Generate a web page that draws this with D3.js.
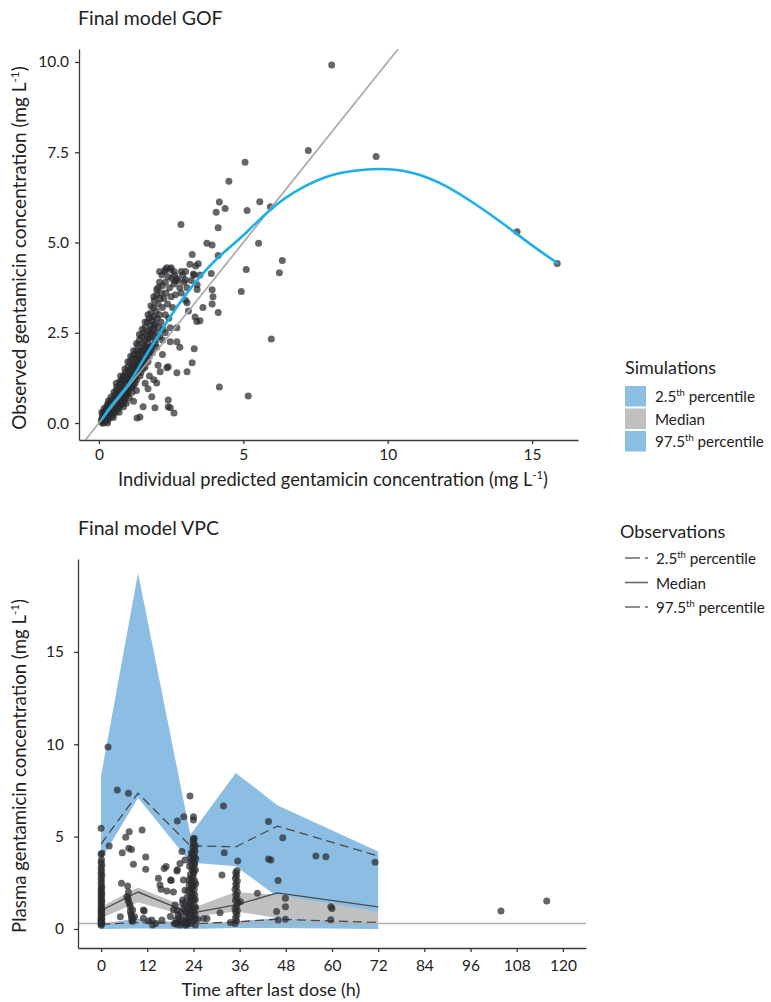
<!DOCTYPE html>
<html>
<head>
<meta charset="utf-8">
<script src="https://cdn.jsdelivr.net/npm/d3@7"></script>
<style>
  body { margin: 0; background: #fff; }
  text { font-family: Lato, "Open Sans", sans-serif; fill: #222; }
</style>
</head>
<body>
<svg id="chart" width="771" height="1002"></svg>
<script>
// ---- GOF data: [individual predicted, observed] (mg/L)
const gofPoints = [
  [0.08,0.05],[0.1,0.12],[0.12,0.2],[0.15,0.1],[0.15,0.28],[0.18,0.18],[0.2,0.32],[0.2,0.05],[0.22,0.22],[0.25,0.4],
  [0.25,0.15],[0.28,0.3],[0.3,0.45],[0.3,0.22],[0.32,0.1],[0.35,0.38],[0.35,0.55],[0.38,0.28],[0.4,0.48],[0.4,0.62],
  [0.42,0.35],[0.45,0.55],[0.45,0.2],[0.48,0.42],[0.5,0.68],[0.5,0.5],[0.52,0.3],[0.55,0.6],[0.55,0.78],[0.58,0.45],
  [0.6,0.7],[0.6,0.9],[0.62,0.55],[0.65,0.82],[0.65,0.38],[0.68,0.7],[0.7,1.0],[0.7,0.6],[0.72,0.85],[0.75,0.5],
  [0.75,1.1],[0.78,0.92],[0.8,0.75],[0.8,1.2],[0.82,0.62],[0.85,1.0],[0.85,1.3],[0.88,0.85],[0.9,1.1],[0.9,0.7],
  [0.92,1.4],[0.95,0.95],[0.95,1.2],[0.98,0.8],[1.0,1.3],[1.0,1.05],[1.0,1.55],[1.02,0.9],[1.05,1.45],[1.05,1.15],
  [1.08,1.7],[1.1,1.3],[1.1,1.0],[1.12,1.55],[1.15,1.2],[1.15,1.8],[1.18,1.4],[1.2,1.65],[1.2,1.05],[1.22,1.9],
  [1.25,1.5],[1.25,1.25],[1.28,1.75],[1.3,2.0],[1.3,1.35],[1.32,1.6],[1.35,1.9],[1.35,2.15],[1.38,1.5],[1.4,1.8],
  [1.4,2.3],[1.42,1.3],[1.45,2.0],[1.45,1.65],[1.48,2.4],[1.5,1.85],[1.5,2.2],[1.52,1.5],[1.55,2.5],[1.55,2.0],
  [1.58,1.75],[1.6,2.3],[1.6,2.65],[1.62,1.9],[1.65,2.45],[1.65,2.1],[1.68,2.8],[1.7,2.2],[1.7,1.7],[1.72,2.55],
  [1.75,2.9],[1.75,2.35],[1.78,2.0],[1.8,2.7],[1.8,3.05],[1.82,2.4],[1.85,2.85],[1.85,2.15],[1.88,3.2],[1.9,2.6],
  [1.9,2.95],[1.92,3.4],[1.95,2.3],[1.95,2.75],[1.98,3.1],[2.0,3.55],[2.0,2.5],[2.02,2.9],[2.05,3.3],[2.05,3.75],
  [2.08,2.65],[2.1,3.0],[2.1,3.9],[2.12,3.45],[2.15,2.8],[2.15,3.6],[2.18,4.1],[2.2,3.2],[2.2,3.8],[2.22,2.6],
  [2.25,3.45],[2.28,4.2],[2.3,3.0],[2.3,3.9],[2.32,3.6],[2.35,4.3],[2.38,3.3],[2.4,4.05],[2.42,2.9],[2.45,3.75],
  [2.48,4.25],[2.5,3.5],[2.52,4.0],[2.55,3.2],[2.6,3.85],[2.62,4.1],[2.65,3.55],[2.7,4.0],[2.75,3.95],[2.8,3.75],
  [2.85,3.6],[2.9,4.1],[2.95,3.9],[3.0,4.2],[3.05,3.75],[3.15,4.4],[3.2,3.95],[3.3,4.1],[3.35,4.35],[3.0,3.4],
  [3.1,3.1],[3.4,3.7],[3.5,4.1],
  [0.1,0.3],[0.12,0.0],[0.18,0.4],[0.22,0.08],[0.28,0.5],[0.3,0.0],[0.33,0.62],[0.38,0.15],[0.42,0.72],[0.48,0.25],
  [0.52,0.85],[0.58,0.3],[0.62,1.0],[0.68,0.45],[0.72,1.15],[0.78,0.55],[0.82,1.25],[0.88,0.6],[0.92,1.05],[0.98,1.35],
  [1.02,1.2],[1.08,1.25],[1.12,1.45],[1.18,1.6],[1.22,1.35],[1.28,1.55],[1.32,1.8],[1.38,1.7],[1.42,1.95],[1.48,1.75],
  [1.52,2.05],[1.58,2.15],[1.62,2.0],[1.68,2.35],[1.72,2.1],[1.78,2.5],[1.82,2.6],[1.88,2.45],[1.92,2.7],
  [0.15,0.0],[0.2,0.15],[0.25,0.05],[0.3,0.35],[0.35,0.2],[0.4,0.3],[0.45,0.4],[0.5,0.35],[0.55,0.45],[0.6,0.4],
  [0.65,0.6],[0.7,0.45],[0.75,0.7],[0.8,0.55],[0.85,0.8],[0.9,0.9],[0.95,0.75],[1.0,0.85],[1.05,0.95],[1.1,1.15],
  [1.15,1.0],[1.2,1.25],[1.25,1.1],[1.3,1.2],[1.35,1.45],[1.4,1.55],[1.45,1.4],[1.5,1.6],[1.55,1.7],[1.6,1.55],
  [1.65,1.85],[1.7,2.0],[1.75,1.85],[1.8,2.1],[1.85,1.95],[1.95,2.2],[2.0,2.1],[2.1,2.4],[2.2,2.3],[2.3,2.5],
  [0.6,1.1],[0.75,1.3],[0.9,1.5],[1.0,1.7],[1.1,1.85],[1.2,2.0],[1.3,2.2],[1.4,2.45],[1.5,2.6],[1.6,2.8],
  [1.7,3.0],[1.8,3.25],[1.9,3.5],[2.0,3.7],[2.1,4.2],[2.3,4.25],[2.5,4.3],[2.6,4.2],
  [0.5,0.15],[0.7,0.3],[0.85,0.45],[0.95,0.55],[1.05,0.7],[1.15,0.85],[1.2,0.6],[1.3,0.9],[1.32,0.14],[1.42,0.17],
  [1.53,0.45],[1.6,1.1],[1.7,0.95],[1.75,1.3],[1.83,0.73],[1.9,1.2],[1.94,0.42],[2.0,1.11],[2.05,1.6],[2.12,1.42],
  [2.2,1.9],[2.35,1.53],[2.4,0.64],[2.4,0.45],[2.4,1.56],[2.47,0.42],[2.47,2.25],[2.47,2.64],[2.6,0.28],[2.7,1.39],
  [2.7,2.25],[2.7,2.64],[2.8,2.1],[3.05,1.42],[3.23,1.67],[3.3,2.06],[3.33,2.94],[3.5,2.83],[3.39,2.81],[3.6,3.2],
  [3.23,4.67],[3.44,4.41],[3.27,4.13],[2.85,4.2],[2.64,3.94],[3.4,3.83],[2.99,3.97],[3.05,3.33],[4.13,4.64],[3.89,4.14],
  [3.92,3.3],
  [2.84,5.5],[3.74,4.98],[3.92,4.93],[3.92,3.69],[3.95,3.5],[4.13,3.06],[4.06,5.84],[4.17,6.12],[4.37,5.94],[4.13,5.41],
  [4.5,6.7],[5.06,7.22],[5.13,5.89],[5.57,6.13],[5.94,5.99],[5.53,4.98],[5.1,4.25],[4.93,3.64],[6.35,4.5],[6.25,4.16],
  [5.97,2.33],[4.17,1.0],[5.17,0.75],[7.25,7.55],[8.06,9.92],[9.6,7.38],[14.48,5.3],[15.87,4.42]
];
// smooth (loess) fit through the GOF points
const fitX = [0.1, 0.5, 1, 1.5, 2, 2.5, 3, 3.5, 4, 4.5, 5, 6, 7, 8, 9, 10, 11, 12, 13, 14, 15, 15.9];
const fitY = [0.1, 0.55, 1.05, 1.7, 2.35, 2.98, 3.55, 4.05, 4.48, 4.85, 5.2, 5.95, 6.5, 6.85, 7.0, 7.03, 6.9, 6.57, 6.08, 5.52, 4.92, 4.42];
const gofXTicks = [0, 5, 10, 15];
const gofYTicks = [0, 2.5, 5, 7.5, 10];

// ---- VPC data
const binTime = [0, 9.6, 23.2, 35, 45.8, 72];
// simulated 95% CI of each percentile
const simHiLo  = [3.75, 7.1, 3.6, 3.4, 1.75, 0.85];
const simHiHi  = [8.3, 19.27, 5.1, 8.45, 6.7, 4.2];
const simMedLo = [0.6, 1.45, 0.65, 0.95, 0.6, 0.3];
const simMedHi = [1.2, 2.25, 1.1, 2.0, 1.85, 0.95];
const simLoLo  = [0.0, 0.02, 0.0, 0.05, 0.05, 0.0];
const simLoHi  = [0.3, 0.55, 0.3, 0.4, 0.6, 0.45];
// observed percentiles
const obsP975 = [4.6, 7.35, 4.5, 4.45, 5.57, 3.95];
const obsP50  = [1.0, 2.0, 0.85, 1.3, 1.95, 1.2];
const obsP025 = [0.25, 0.35, 0.28, 0.38, 0.53, 0.35];
const lloq = 0.3;
// observed concentrations: [time after last dose (h), conc (mg/L)]
const vpcPoints = [
  [0,0.2],[0.1,0.25],[0,0.3],[0.2,0.35],[0,0.4],[0.1,0.45],[0,0.5],[0.2,0.55],[0,0.6],[0.1,0.7],
  [0,0.75],[0.2,0.8],[0,0.9],[0.1,1.0],[0,1.05],[0.2,1.1],[0,1.2],[0.1,1.3],[0,1.4],[0.2,1.5],
  [0,1.6],[0.1,1.7],[0,1.8],[0.2,1.9],[0,2.0],[0.1,2.1],[0,2.2],[0.2,2.3],[0,2.45],[0.1,2.6],
  [0,2.75],[0.2,2.9],[0,3.0],[0.1,3.15],[0,3.3],[0.2,3.45],[0,3.6],[0.1,3.75],[0,4.05],[0.2,4.1],
  [0,5.45],[1.8,9.85],[2.1,4.49],[4.2,7.53],[7.1,7.35],
  [5.5,4.13],[6.4,4.96],[7.3,5.27],[7.2,4.37],[7.9,4.3],[10.65,5.36],[8.4,3.5],[11.6,3.9],[11.6,3.23],[5.3,2.47],
  [6.9,2.33],[14.9,2.74],[15.3,2.38],[16.4,3.28],[17.1,2.06],[18.2,2.62],[19.7,3.14],[19.8,5.85],[21.5,6.08],
  [6.7,1.75],[7.1,1.5],[7.6,1.2],[7.6,0.94],[7.9,0.66],[8.1,0.4],[7.1,2.0],[7.4,1.35],[7.8,0.8],[8.3,0.55],
  [7.0,1.65],[8.0,0.5],[8.2,1.03],[11.0,1.03],[11.0,0.58],[13.2,0.49],[13.4,0.22],[14.2,0.3],[15.8,0.49],[15.6,2.15],
  [16.9,3.38],[18.1,2.65],[18.8,2.0],[19.8,3.2],[18.0,0.67],[18.8,1.03],[19.2,1.3],[19.5,0.49],[20.0,0.76],[20.5,0.4],
  [21.2,1.57],[21.4,2.65],[21.0,4.19],[21.8,3.74],[20.5,3.55],[8.7,0.66],[5.0,0.66],[12.3,0.43],[11.2,0.97],
  [19.0,0.3],[19.5,0.25],[20.0,0.35],[20.5,0.22],[21.0,0.5],[21.3,0.3],[20.8,0.85],[21.5,1.1],[20.2,0.6],[21.2,1.4],[19.8,1.0],
  [22.4,0.25],[22.6,0.4],[22.8,0.55],[23.0,0.7],[22.5,0.85],[23.2,1.0],[22.7,1.15],[23.4,1.3],[22.9,1.45],[23.6,1.6],
  [23.1,1.75],[23.8,1.9],[22.6,2.05],[23.3,2.2],[24.0,2.35],[23.5,2.5],[22.8,2.65],[23.9,2.8],[23.2,2.95],[24.1,3.1],
  [23.6,3.25],[23.0,3.4],[24.2,3.55],[23.7,3.7],[23.3,3.85],[24.0,4.0],[23.5,4.15],[24.2,4.3],[23.8,4.45],[24.1,4.6],
  [23.9,4.75],[24.0,4.9],[23.4,0.3],[23.8,0.45],[24.2,0.6],[23.6,0.8],[24.0,0.95],[23.9,1.1],[24.3,1.25],[23.1,1.4],
  [24.1,1.55],[23.7,1.7],[24.3,1.85],[23.5,2.0],[24.2,2.15],[23.8,2.3],[22.9,2.4],[24.3,2.6],[23.4,2.75],[24.0,3.0],
  [23.9,3.3],[24.3,3.5],[23.3,3.6],[24.3,3.9],[23.6,4.05],[24.4,4.2],[22.2,0.3],[22.1,0.6],[22.0,0.95],[21.9,1.3],
  [22.3,1.7],[21.8,2.1],[22.2,0.45],[22.0,0.2],[24.5,0.22],[24.6,0.5],[24.4,0.8],[24.6,1.15],[24.5,1.6],[24.6,2.45],
  [24.5,3.2],[24.6,3.8],[24.5,4.5],[24.2,4.9],[24.0,5.9],[24.0,6.08],[23.1,7.2],
  [25.1,0.52],[26.6,0.57],[27.5,0.57],
  [34.8,0.3],[35.2,0.45],[34.9,0.6],[35.3,0.75],[35.0,0.9],[35.4,1.0],[34.8,1.1],[35.2,1.25],[35.5,1.4],[34.9,1.55],
  [35.3,1.7],[35.0,1.85],[35.4,2.0],[34.8,2.15],[35.2,2.3],[35.0,2.45],[35.4,2.6],[34.9,2.75],[35.2,2.9],[35.0,3.05],
  [35.3,3.15],[36.2,1.48],[33.6,0.35],[30.9,0.88],[31.4,2.92],[32.0,4.13],[31.8,6.66],[35.5,3.68],
  [43.5,5.82],[43.5,3.79],[44.1,3.73],[47.2,4.94],[46.0,2.62],[47.9,1.66],[47.9,1.2],[47.9,0.52],[46.0,0.48],[45.6,0.94],
  [40.6,1.93],[55.8,3.95],[58.4,3.91],[59.7,1.2],[60.0,1.11],[59.7,0.5],[71.2,3.61],[103.9,0.97],[115.8,1.52]
];
const vpcXTicks = [0, 12, 24, 36, 48, 60, 72, 84, 96, 108, 120];
const vpcYTicks = [0, 5, 10, 15];

const simLabels = ['2.5th percentile', 'Median', '97.5th percentile'];
const bandBlue = '#8cbee3';
const bandGray = '#c0c0c0';

const svg = d3.select('#chart');

function styleAxis (g, fs) {
  g.attr('font-family', 'Lato, "Open Sans", sans-serif')
  g.select('.domain').attr('stroke', '#3a3a3a').attr('stroke-width', 1.3)
  g.selectAll('.tick line').attr('stroke', '#3a3a3a').attr('stroke-width', 1.3)
  g.selectAll('.tick text').attr('font-size', fs).attr('fill', '#222')
}

// label with a superscript "th" or "-1"
function supText (sel, before, sup, after, fs) {
  sel.append('tspan').text(before)
  sel.append('tspan').attr('font-size', fs * 0.62).attr('dy', -fs * 0.38).text(sup)
  sel.append('tspan').attr('dy', fs * 0.38).text(after)
}

// ================= GOF panel =================
const xG = d3.scaleLinear().domain([-0.69, 16.59]).range([79, 578]);
const yG = d3.scaleLinear().domain([-0.47, 10.36]).range([440, 49]);

svg.append('clipPath').attr('id', 'clipG')
  .append('rect').attr('x', 79).attr('y', 49).attr('width', 499).attr('height', 391);

const gofG = svg.append('g').attr('clip-path', 'url(#clipG)');
gofG.selectAll('circle').data(gofPoints).enter().append('circle')
  .attr('cx', d => xG(d[0])).attr('cy', d => yG(d[1])).attr('r', 3.5)
  .attr('fill', '#2b2b2f').attr('fill-opacity', 0.72);

gofG.append('line')
  .attr('x1', xG(-0.47)).attr('y1', yG(-0.47)).attr('x2', xG(10.36)).attr('y2', yG(10.36))
  .attr('stroke', '#a8a8a8').attr('stroke-width', 1.6);

gofG.append('path')
  .datum(fitX.map((x, i) => [x, fitY[i]]))
  .attr('d', d3.line().x(d => xG(d[0])).y(d => yG(d[1])).curve(d3.curveNatural))
  .attr('fill', 'none').attr('stroke', '#1cb0e6').attr('stroke-width', 2.6);

svg.append('g').attr('transform', 'translate(0,440)')
  .call(d3.axisBottom(xG).tickValues(gofXTicks).tickSize(4).tickSizeOuter(0).tickPadding(5))
  .call(g => styleAxis(g, 15.5));
svg.append('g').attr('transform', 'translate(79,0)')
  .call(d3.axisLeft(yG).tickValues(gofYTicks).tickFormat(d3.format('.1f')).tickSize(4).tickSizeOuter(0).tickPadding(6))
  .call(g => styleAxis(g, 15.5));

svg.append('text').attr('x', 78).attr('y', 25).attr('font-size', 19.5).text('Final model GOF');
supText(svg.append('text').attr('x', 333).attr('y', 486).attr('font-size', 18.3).attr('text-anchor', 'middle'),
  'Individual predicted gentamicin concentration (mg L', '-1', ')', 18.3);
supText(svg.append('text').attr('transform', 'translate(26,248) rotate(-90)').attr('font-size', 19).attr('text-anchor', 'middle'),
  'Observed gentamicin concentration (mg L', '-1', ')', 19);

// Simulations legend
const simLeg = svg.append('g').attr('transform', 'translate(625,0)');
simLeg.append('text').attr('x', 0).attr('y', 374).attr('font-size', 18).text('Simulations');
const simColors = [bandBlue, bandGray, bandBlue];
simLabels.forEach((lab, i) => {
  const y0 = 386 + i * 22.5;
  simLeg.append('rect').attr('x', 0).attr('y', y0).attr('width', 21).attr('height', 20.5).attr('fill', simColors[i]);
  const t = simLeg.append('text').attr('x', 30).attr('y', y0 + 16).attr('font-size', 15.2);
  if (i === 1) t.text(lab);
  else supText(t, lab.split('th')[0], 'th', lab.split('th')[1], 15.2);
});

// ================= VPC panel =================
const xV = d3.scaleLinear().domain([-6, 126]).range([78, 586]);
const yV = d3.scaleLinear().domain([-1.03, 20.03]).range([948, 559]);

const area = (lo, hi) => d3.area().x((d, i) => xV(binTime[i])).y0((d, i) => yV(lo[i])).y1((d, i) => yV(hi[i]))(binTime);
const line = vals => d3.line().x((d, i) => xV(binTime[i])).y((d, i) => yV(vals[i]))(binTime);

const vpcG = svg.append('g');
vpcG.append('path').attr('d', area(simHiLo, simHiHi)).attr('fill', bandBlue);
vpcG.append('path').attr('d', area(simLoLo, simLoHi)).attr('fill', bandBlue);
vpcG.append('path').attr('d', area(simMedLo, simMedHi)).attr('fill', bandGray);

vpcG.append('line')
  .attr('x1', xV(-6)).attr('x2', xV(126)).attr('y1', yV(lloq)).attr('y2', yV(lloq))
  .attr('stroke', '#b0b0b0').attr('stroke-width', 1.6);

vpcG.append('path').attr('d', line(obsP975)).attr('fill', 'none')
  .attr('stroke', '#4a4a4a').attr('stroke-width', 1.3).attr('stroke-dasharray', '9,5');
vpcG.append('path').attr('d', line(obsP025)).attr('fill', 'none')
  .attr('stroke', '#4a4a4a').attr('stroke-width', 1.3).attr('stroke-dasharray', '9,5');
vpcG.append('path').attr('d', line(obsP50)).attr('fill', 'none')
  .attr('stroke', '#4a4a4a').attr('stroke-width', 1.3);

vpcG.selectAll('circle').data(vpcPoints).enter().append('circle')
  .attr('cx', d => xV(d[0])).attr('cy', d => yV(d[1])).attr('r', 3.5)
  .attr('fill', '#2b2b2f').attr('fill-opacity', 0.72);

svg.append('g').attr('transform', 'translate(0,948)')
  .call(d3.axisBottom(xV).tickValues(vpcXTicks).tickSize(4).tickSizeOuter(0).tickPadding(8))
  .call(g => styleAxis(g, 15.5));
svg.append('g').attr('transform', 'translate(78,0)')
  .call(d3.axisLeft(yV).tickValues(vpcYTicks).tickSize(4).tickSizeOuter(0).tickPadding(10))
  .call(g => styleAxis(g, 15.5));

svg.append('text').attr('x', 78).attr('y', 535).attr('font-size', 19.5).text('Final model VPC');
svg.append('text').attr('x', 271).attr('y', 996).attr('font-size', 18).attr('text-anchor', 'middle')
  .text('Time after last dose (h)');
supText(svg.append('text').attr('transform', 'translate(26,766) rotate(-90)').attr('font-size', 18.6).attr('text-anchor', 'middle'),
  'Plasma gentamicin concentration (mg L', '-1', ')', 18.6);

// Observations legend
const obsLeg = svg.append('g').attr('transform', 'translate(620,0)');
obsLeg.append('text').attr('x', 0).attr('y', 538).attr('font-size', 18).text('Observations');
simLabels.forEach((lab, i) => {
  const yc = 558 + i * 24.5;
  obsLeg.append('line').attr('x1', 5).attr('x2', 28).attr('y1', yc).attr('y2', yc)
    .attr('stroke', '#6a6a6a').attr('stroke-width', 1.6)
    .attr('stroke-dasharray', i === 1 ? null : '15,5');
  const t = obsLeg.append('text').attr('x', 36).attr('y', yc + 6).attr('font-size', 15.2);
  if (i === 1) t.text(lab);
  else supText(t, lab.split('th')[0], 'th', lab.split('th')[1], 15.2);
});
</script>
</body>
</html>
